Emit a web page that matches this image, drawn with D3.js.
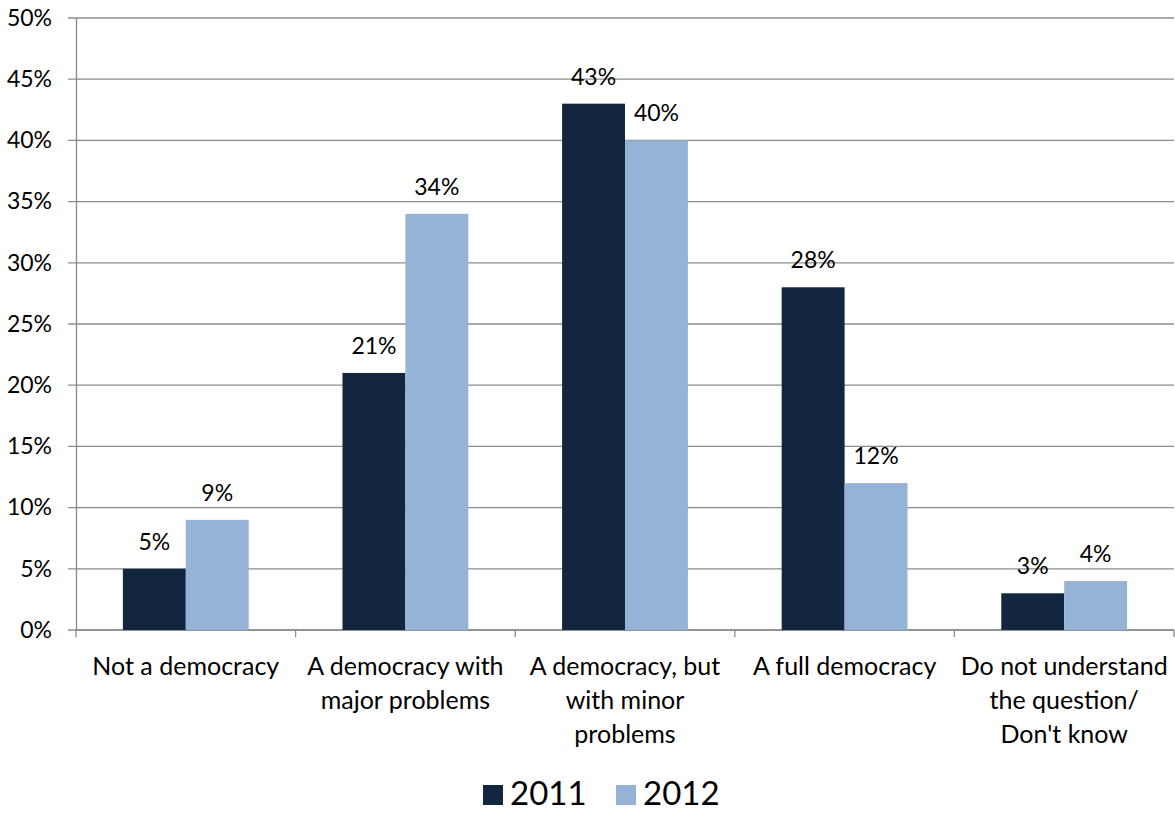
<!DOCTYPE html>
<html><head><meta charset="utf-8">
<script src="https://cdn.jsdelivr.net/npm/d3@7"></script>
<style>body{margin:0;background:#fff}svg{display:block;font-family:Lato,"Open Sans",sans-serif}</style>
</head><body><svg id="c" width="1175" height="813"></svg>
<script>
const categories = [["Not a democracy"],["A democracy with","major problems"],["A democracy, but","with minor","problems"],["A full democracy"],["Do not understand","the question/","Don't know"]];
const series = ["2011","2012"];
const values2011 = [5,21,43,28,3];
const values2012 = [9,34,40,12,4];
const yTicks = [0,5,10,15,20,25,30,35,40,45,50];
const colors = ["#13263f","#95b3d7"];

const svg = d3.select("#c");
const L=76,R=1174,T=18,B=630;
const x = d3.scaleBand().domain(d3.range(categories.length)).range([L,R]).paddingInner(0).paddingOuter(0);
const bw = x.bandwidth();
const barW = bw*0.2865;
const off = (bw-2*barW)/2;
const y = d3.scaleLinear().domain([0,50]).range([B,T]);
const grid="#8c8c8c";

svg.append("g").selectAll("line").data(yTicks).join("line")
 .attr("x1",68).attr("x2",R).attr("y1",d=>y(d)).attr("y2",d=>y(d))
 .attr("stroke",grid).attr("stroke-width",1.3);
const ya = svg.append("g").attr("transform",`translate(${L},0)`).call(d3.axisLeft(y).tickValues(yTicks).tickSize(0).tickPadding(24).tickFormat(d=>d+"%"));
ya.select(".domain").attr("stroke",grid).attr("stroke-width",1.3);
ya.selectAll("text").attr("font-size",23).attr("fill","#000").attr("font-family","Lato");
const xa = svg.append("g").attr("transform",`translate(0,${B})`);
xa.append("line").attr("x1",L).attr("x2",R).attr("stroke",grid).attr("stroke-width",1.3);
const bounds = d3.range(categories.length+1).map(i=> i<categories.length? x(i): R);
xa.selectAll("line.t").data(bounds).join("line").attr("class","t")
 .attr("x1",d=>d).attr("x2",d=>d).attr("y1",0).attr("y2",7).attr("stroke",grid).attr("stroke-width",1.3);

const data = categories.map((c,i)=>({i,vals:[values2011[i],values2012[i]]}));
const g = svg.append("g");
data.forEach(d=>{
  d.vals.forEach((v,j)=>{
    const bx = x(d.i)+off+j*barW;
    g.append("rect").attr("x",bx).attr("y",y(v)).attr("width",barW).attr("height",B-y(v)).attr("fill",colors[j]);
  });
});
data.forEach(d=>{
  d.vals.forEach((v,j)=>{
    const bx = x(d.i)+off+j*barW;
    g.append("text").attr("x",bx+barW/2).attr("y",y(v)-19).attr("text-anchor","middle")
     .attr("font-size",23).text(v+"%");
  });
});
categories.forEach((lines,i)=>{
  const t = svg.append("text").attr("text-anchor","middle").attr("font-size",25);
  lines.forEach((ln,k)=> t.append("tspan").attr("x",x(i)+bw/2).attr("y",675+k*34).text(ln));
});
const lg = svg.append("g");
const lx=[483,616];
series.forEach((s,j)=>{
  lg.append("rect").attr("x",lx[j]).attr("y",785).attr("width",20).attr("height",20).attr("fill",colors[j]);
  lg.append("text").attr("x",lx[j]+27).attr("y",805).attr("font-size",33).text(s);
});
</script></body></html>
